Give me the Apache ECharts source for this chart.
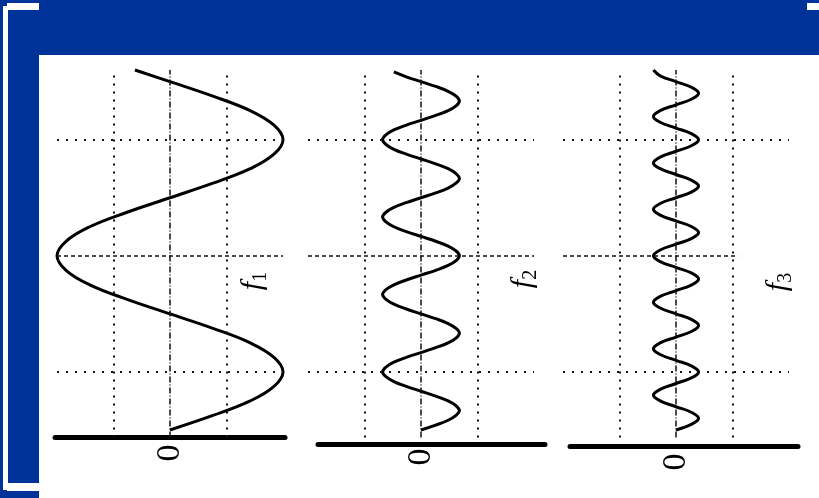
<!DOCTYPE html>
<html>
<head>
<meta charset="utf-8">
<script src="https://cdn.jsdelivr.net/npm/echarts@6/dist/echarts.min.js"></script>
<style>
  html, body { margin: 0; padding: 0; background: #003399; }
  #chart { width: 819px; height: 498px; }
</style>
</head>
<body>
<div id="chart"></div>
<script>
// Fundamental f1 and the 3rd and 5th harmonics (f2, f3) of a square wave,
// drawn upright: time runs up the page, amplitude runs across.

// f1 — fundamental
const timeF1 = [0, 0.25, 0.5, 0.75, 1, 1.25, 1.5, 1.75, 2, 2.25, 2.5, 2.75,
  3, 3.25, 3.5, 3.75, 4, 4.25, 4.5, 4.75, 5, 5.25, 5.5, 5.75, 6, 6.2];
const valueF1 = [0, 0.38, 0.71, 0.92, 1, 0.92, 0.71, 0.38, 0, -0.38, -0.71, -0.92,
  -1, -0.92, -0.71, -0.38, 0, 0.38, 0.71, 0.92, 1, 0.92, 0.71, 0.38, 0, -0.31];

// f2 — three times the frequency, a third of the amplitude
const timeF2 = [
  0, 0.083, 0.167, 0.25, 0.333, 0.417, 0.5, 0.583, 0.667, 0.75, 0.833, 0.917,
  1, 1.083, 1.167, 1.25, 1.333, 1.417, 1.5, 1.583, 1.667, 1.75, 1.833, 1.917,
  2, 2.083, 2.167, 2.25, 2.333, 2.417, 2.5, 2.583, 2.667, 2.75, 2.833, 2.917,
  3, 3.083, 3.167, 3.25, 3.333, 3.417, 3.5, 3.583, 3.667, 3.75, 3.833, 3.917,
  4, 4.083, 4.167, 4.25, 4.333, 4.417, 4.5, 4.583, 4.667, 4.75, 4.833, 4.917,
  5, 5.083, 5.167, 5.25, 5.333, 5.417, 5.5, 5.583, 5.667, 5.75, 5.833, 5.917,
  6, 6.083, 6.167];
const valueF2 = [
  0, 0.13, 0.24, 0.31, 0.34, 0.31, 0.24, 0.13, 0, -0.13, -0.24, -0.31, -0.34, -0.31, -0.24, -0.13,
  0, 0.13, 0.24, 0.31, 0.34, 0.31, 0.24, 0.13, 0, -0.13, -0.24, -0.31, -0.34, -0.31, -0.24, -0.13,
  0, 0.13, 0.24, 0.31, 0.34, 0.31, 0.24, 0.13, 0, -0.13, -0.24, -0.31, -0.34, -0.31, -0.24, -0.13,
  0, 0.13, 0.24, 0.31, 0.34, 0.31, 0.24, 0.13, 0, -0.13, -0.24, -0.31, -0.34, -0.31, -0.24, -0.13,
  0, 0.13, 0.24, 0.31, 0.34, 0.31, 0.24, 0.13, 0, -0.13, -0.24];

// f3 — five times the frequency, a fifth of the amplitude
const timeF3 = [0, 0.1, 0.2, 0.3, 0.4, 0.5, 0.6, 0.7, 0.8, 0.9,
  1, 1.1, 1.2, 1.3, 1.4, 1.5, 1.6, 1.7, 1.8, 1.9,
  2, 2.1, 2.2, 2.3, 2.4, 2.5, 2.6, 2.7, 2.8, 2.9,
  3, 3.1, 3.2, 3.3, 3.4, 3.5, 3.6, 3.7, 3.8, 3.9,
  4, 4.1, 4.2, 4.3, 4.4, 4.5, 4.6, 4.7, 4.8, 4.9,
  5, 5.1, 5.2, 5.3, 5.4, 5.5, 5.6, 5.7, 5.8, 5.9,
  6, 6.1, 6.2];
const valueF3 = [0, 0.14, 0.2, 0.14, 0, -0.14, -0.2, -0.14,
  0, 0.14, 0.2, 0.14, 0, -0.14, -0.2, -0.14,
  0, 0.14, 0.2, 0.14, 0, -0.14, -0.2, -0.14,
  0, 0.14, 0.2, 0.14, 0, -0.14, -0.2, -0.14,
  0, 0.14, 0.2, 0.14, 0, -0.14, -0.2, -0.14,
  0, 0.14, 0.2, 0.14, 0, -0.14, -0.2, -0.14,
  0, 0.14, 0.2, 0.14, 0, -0.14, -0.2, -0.14,
  0, 0.14, 0.2, 0.14, 0, -0.14, -0.2];

// Reference lines: time rows and amplitude columns
const gridTimes = [1, 3, 5];
const gridAmplitudes = [-0.5, 0, 0.5];

// Text
const functionName = 'f';
const subscripts = ['1', '2', '3'];
const zeroLabel = '0';

const curves = [
  { time: timeF1, value: valueF1 },
  { time: timeF2, value: valueF2 },
  { time: timeF3, value: valueF3 }
];

// Page layout of each panel
const layout = [
  { left: 57,  lineLeft: 55,  lineWidth: 230, lineY: 437.5, zeroGap: 7,  midEnd: 1,    labelX: 253, labelY: 281 },
  { left: 308, lineLeft: 318, lineWidth: 227, lineY: 444,   zeroGap: 11, midEnd: 1,    labelX: 523, labelY: 279 },
  { left: 563, lineLeft: 570, lineWidth: 228, lineY: 446,   zeroGap: 16, midEnd: 0.55, labelX: 778, labelY: 282 }
];

const INK = '#111';
const rowStyle     = { color: INK, width: 2,   type: [2, 7] };
const midRowStyle  = { color: INK, width: 1.5, type: [4, 3] };
const colStyle     = { color: INK, width: 2,   type: [2, 6] };
const axisColStyle = { color: INK, width: 1.5, type: [6, 2, 1, 2] };

const grid = [], xAxis = [], yAxis = [], series = [], graphic = [];

// Slide frame
graphic.push(
  { type: 'rect', z: -100, shape: { x: 39, y: 55, width: 780, height: 443 }, style: { fill: '#ffffff' } },
  { type: 'rect', z: -100, shape: { x: 3, y: 6, width: 5, height: 484 }, style: { fill: '#ffffff' } },
  { type: 'rect', z: -100, shape: { x: 7, y: 3, width: 32, height: 7 }, style: { fill: '#ffffff' } },
  { type: 'rect', z: -100, shape: { x: 7, y: 483, width: 32, height: 8 }, style: { fill: '#ffffff' } },
  { type: 'rect', z: -100, shape: { x: 807, y: 3, width: 12, height: 7 }, style: { fill: '#ffffff' } }
);

curves.forEach((c, i) => {
  const L = layout[i];
  // plotting area
  grid.push({ left: L.left, width: 226, top: 70, height: 367.5 });
  xAxis.push({
    type: 'value', gridIndex: i, min: -1, max: 1, interval: 1,
    axisLine: { show: false, onZero: false },
    axisTick: { show: false },
    splitLine: { show: false },
    axisLabel: {
      show: true, rotate: 90, margin: L.zeroGap,
      fontFamily: 'Liberation Serif', fontSize: 34, color: '#000',
      formatter: v => (v === 0 ? zeroLabel : '')
    }
  });
  yAxis.push({ type: 'value', gridIndex: i, min: -0.13, max: 6.2, show: false });

  const lines = [];
  gridAmplitudes.forEach(a => lines.push({ xAxis: a, lineStyle: a === 0 ? axisColStyle : colStyle }));
  gridTimes.forEach(t => {
    if (t === 3) {
      lines.push([{ coord: [-1, t], lineStyle: midRowStyle }, { coord: [L.midEnd, t] }]);
    } else {
      lines.push({ yAxis: t, lineStyle: rowStyle });
    }
  });

  series.push({
    type: 'line', xAxisIndex: i, yAxisIndex: i,
    data: c.time.map((t, k) => [c.value[k], t]),
    smooth: 0.4, symbol: 'none', clip: false,
    lineStyle: { color: '#000', width: 3 },
    markLine: {
      silent: true, symbol: ['none', 'none'], animation: false,
      label: { show: false },
      data: lines
    },
    z: 3
  });

  graphic.push({
    type: 'text', x: L.labelX, y: L.labelY, rotation: Math.PI / 2, z: 100,
    style: {
      text: '{f|' + functionName + '}{s|' + subscripts[i] + '}',
      align: 'center', verticalAlign: 'middle',
      rich: {
        f: { fontFamily: 'Liberation Serif', fontStyle: 'italic', fontSize: 30, lineHeight: 36, verticalAlign: 'middle', fill: '#000' },
        s: { fontFamily: 'Liberation Serif', fontSize: 20, lineHeight: 20, verticalAlign: 'bottom', fill: '#000' }
      }
    }
  });
});

// Heavy base line of each panel
layout.forEach((L) => {
  const g = grid.length;
  grid.push({ left: L.lineLeft, width: L.lineWidth, top: L.lineY - 20, height: 20 });
  xAxis.push({
    type: 'value', gridIndex: g, min: 0, max: 1,
    axisLine: { show: true, onZero: false, lineStyle: { color: '#000', width: 5 } },
    axisTick: { show: false }, axisLabel: { show: false }, splitLine: { show: false }
  });
  yAxis.push({ type: 'value', gridIndex: g, min: 0, max: 1, show: false });
});

const chart = echarts.init(document.getElementById('chart'));
chart.setOption({
  backgroundColor: '#003399',
  animation: false,
  graphic: graphic,
  grid: grid,
  xAxis: xAxis,
  yAxis: yAxis,
  series: series
});
</script>
</body>
</html>
